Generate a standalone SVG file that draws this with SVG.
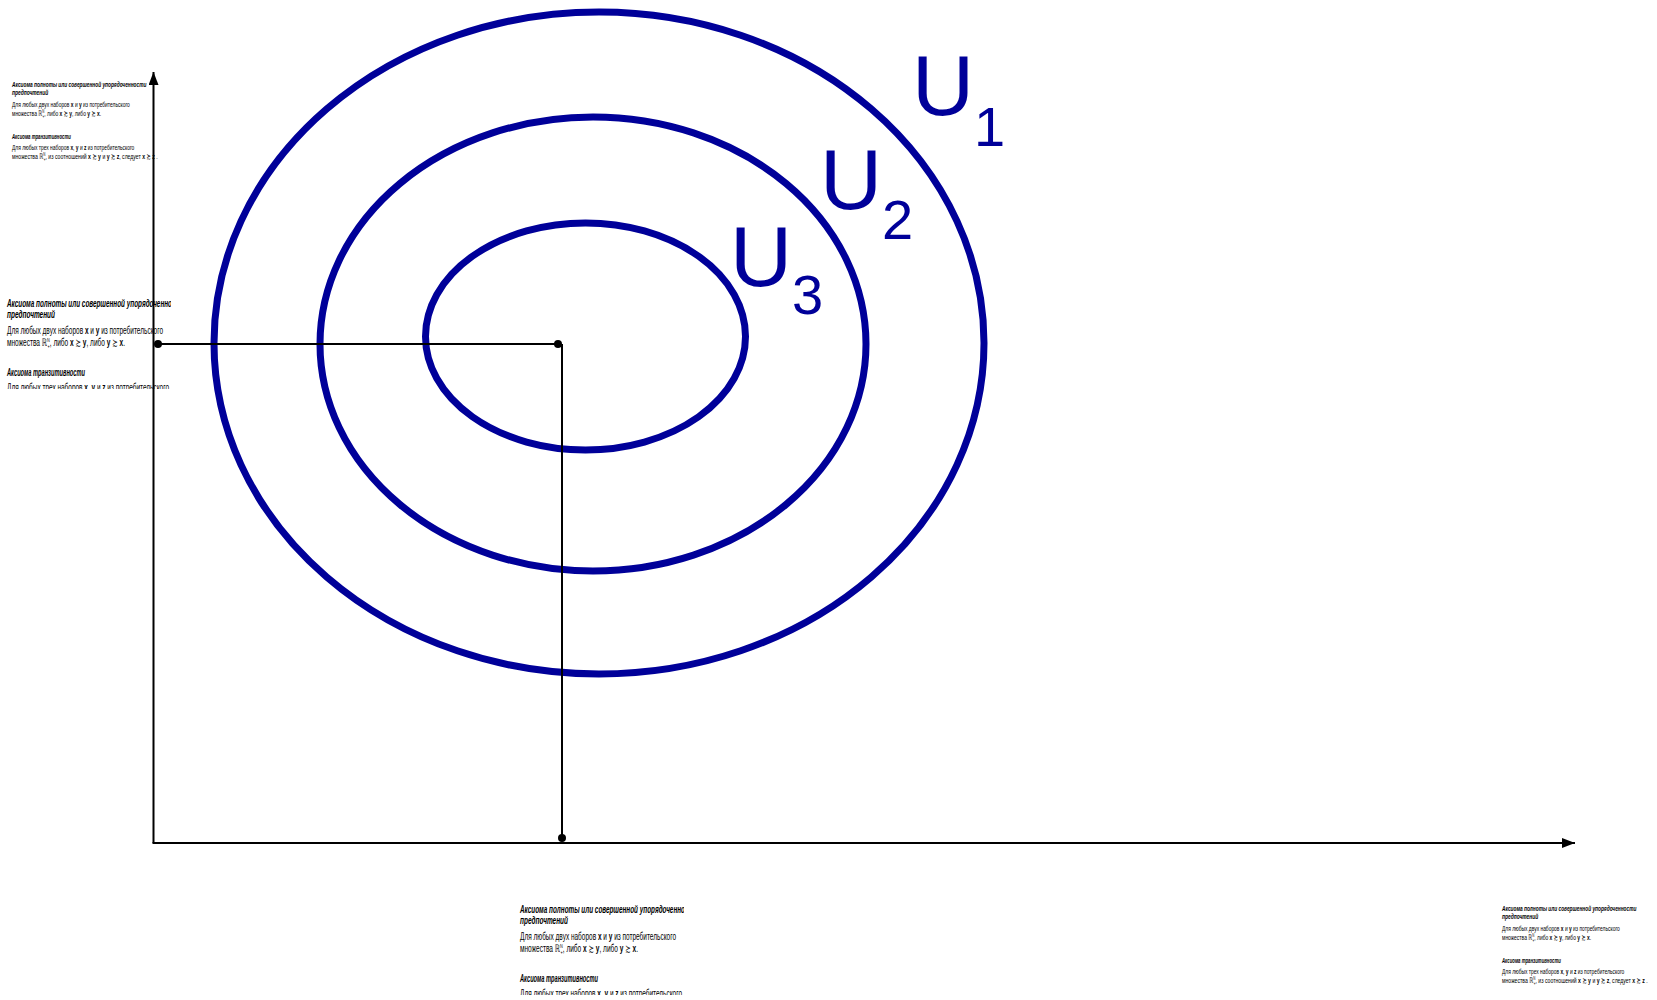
<svg xmlns="http://www.w3.org/2000/svg" xmlns:xlink="http://www.w3.org/1999/xlink" width="1657" height="1000" viewBox="0 0 1657 1000">
<style>
.ax text{font-family:'Liberation Sans','DejaVu Sans',sans-serif;font-size:10.3px;fill:#000}
.ax .h{font-weight:bold;font-style:italic}
.ax .b{font-weight:bold}
.curve{fill:none;stroke:#000099;stroke-width:7}
.lbl{font-family:'Liberation Sans',Arial,sans-serif;fill:#000099;font-size:86px}
.ln{stroke:#000;stroke-width:2;fill:none}
</style>
<defs>
<g id="axiom" class="ax">
<text class="h" x="0" y="0" textLength="178" lengthAdjust="spacingAndGlyphs">Аксиома полноты или совершенной упорядоченности</text>
<text class="h" x="0" y="11" textLength="48" lengthAdjust="spacingAndGlyphs">предпочтений</text>
<text x="0" y="27" textLength="156" lengthAdjust="spacingAndGlyphs">Для любых двух наборов <tspan class="b">x</tspan> и <tspan class="b">y</tspan> из потребительского</text>
<text x="0" y="39" textLength="118" lengthAdjust="spacingAndGlyphs">множества ℝ<tspan font-size="6" dy="-4">N</tspan><tspan font-size="6" dx="-3.5" dy="6">+</tspan><tspan dy="-2">, либо </tspan><tspan class="b">x</tspan> ≿ <tspan class="b">y</tspan>, либо <tspan class="b">y</tspan> ≿ <tspan class="b">x</tspan>.</text>
<text class="h" x="0" y="69" textLength="78" lengthAdjust="spacingAndGlyphs">Аксиома транзитивности</text>
<text x="0" y="84" textLength="162" lengthAdjust="spacingAndGlyphs">Для любых трех наборов <tspan class="b">x</tspan>, <tspan class="b">y</tspan> и <tspan class="b">z</tspan> из потребительского</text>
<text x="0" y="96" textLength="193" lengthAdjust="spacingAndGlyphs">множества ℝ<tspan font-size="6" dy="-4">N</tspan><tspan font-size="6" dx="-3.5" dy="6">+</tspan><tspan dy="-2">,  из соотношений </tspan><tspan class="b">x</tspan> ≿ <tspan class="b">y</tspan> и <tspan class="b">y</tspan> ≿ <tspan class="b">z</tspan>, следует <tspan class="b">x</tspan> ≿ <tspan class="b">z</tspan> .</text>
</g>
<clipPath id="clipBox" clipPathUnits="userSpaceOnUse">
<rect x="-8" y="-12" width="172" height="94"/>
</clipPath>
<marker id="arr" viewBox="0 0 13 10" refX="13" refY="5" markerWidth="13" markerHeight="10" markerUnits="userSpaceOnUse" orient="auto">
<path d="M0,0 L13,5 L0,10 Z" fill="#000"/>
</marker>
</defs>

<g id="text-top-left" transform="translate(12,87) scale(0.755)"><use xlink:href="#axiom" href="#axiom"/></g>
<g id="text-mid-left" transform="translate(7,307)" clip-path="url(#clipBox)"><use xlink:href="#axiom" href="#axiom"/></g>
<g id="text-bottom-center" transform="translate(520,913)" clip-path="url(#clipBox)"><use xlink:href="#axiom" href="#axiom"/></g>
<g id="text-bottom-right" transform="translate(1502,911) scale(0.755)"><use xlink:href="#axiom" href="#axiom"/></g>

<g id="curve-U1"><ellipse class="curve" cx="599" cy="343" rx="385" ry="331"/></g>
<g id="curve-U2"><ellipse class="curve" cx="593" cy="344" rx="273" ry="227"/></g>
<g id="curve-U3"><ellipse class="curve" cx="585.5" cy="336.5" rx="160" ry="113.5"/></g>

<g id="label-U1"><text class="lbl" x="912" y="115">U<tspan font-size="56" dy="31">1</tspan></text></g>
<g id="label-U2"><text class="lbl" x="820" y="209">U<tspan font-size="56" dy="30">2</tspan></text></g>
<g id="label-U3"><text class="lbl" x="730" y="286">U<tspan font-size="56" dy="28">3</tspan></text></g>

<g id="connectors">
<line class="ln" x1="153.5" y1="843" x2="153.5" y2="72" marker-end="url(#arr)"/>
<line class="ln" x1="152.5" y1="843" x2="1575" y2="843" marker-end="url(#arr)"/>
<line class="ln" x1="158" y1="344" x2="558" y2="344"/>
<line class="ln" x1="562" y1="344" x2="562" y2="838"/>
<circle cx="158" cy="344" r="4" fill="#000"/>
<circle cx="558" cy="344" r="4" fill="#000"/>
<circle cx="562" cy="838" r="4" fill="#000"/>
</g>
</svg>
